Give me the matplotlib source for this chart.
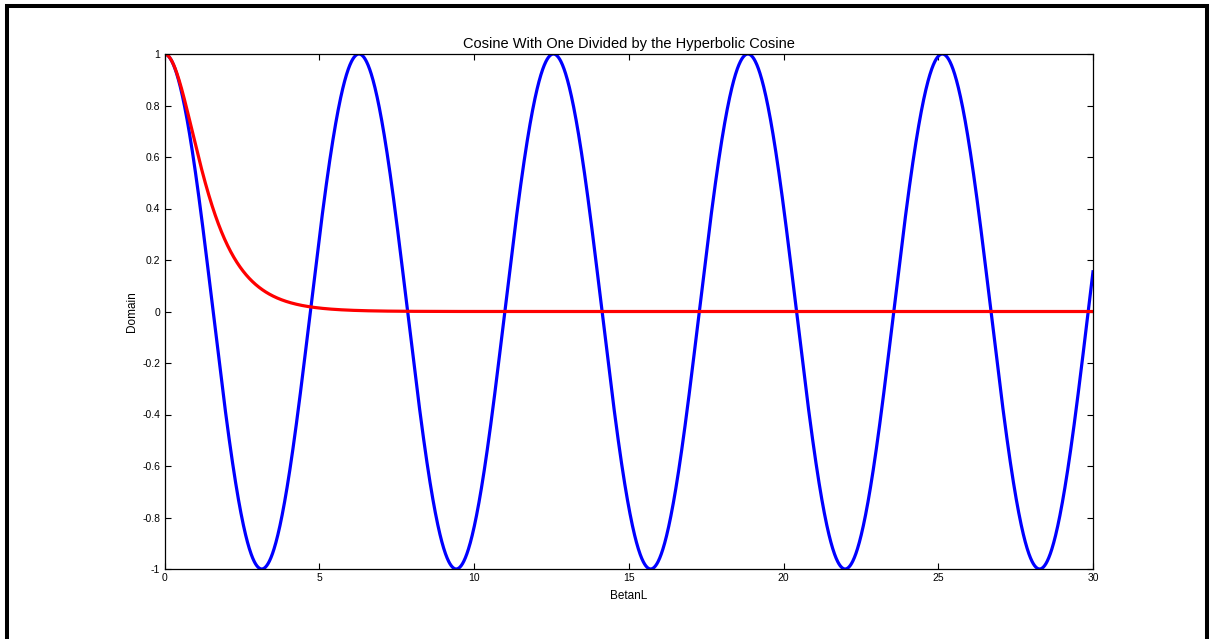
import numpy as np
import matplotlib.pyplot as plt
from matplotlib.lines import Line2D

plt.rcParams['font.family'] = ['Liberation Sans', 'DejaVu Sans']

# sample points along BetanL
betanl = np.linspace(0, 30, 3001)
cos_vals = np.cos(betanl)
sech_vals = 1.0 / np.cosh(betanl)

x_ticks = [0, 5, 10, 15, 20, 25, 30]
y_ticks = [-1, -0.8, -0.6, -0.4, -0.2, 0, 0.2, 0.4, 0.6, 0.8, 1]
y_labels = ['-1', '-0.8', '-0.6', '-0.4', '-0.2', '0', '0.2', '0.4', '0.6', '0.8', '1']

W, H = 1210, 639
fig = plt.figure(figsize=(W / 100, H / 100), dpi=100)
ax = fig.add_axes([164.5 / W, 1 - 569 / H, (1093 - 164.5) / W, (569 - 54) / H])

ax.plot(betanl, cos_vals, color='#0000ff', linewidth=2.3)
ax.plot(betanl, sech_vals, color='#ff0000', linewidth=2.3)

ax.set_xlim(0, 30)
ax.set_ylim(-1, 1)
ax.set_xticks(x_ticks)
ax.set_xticklabels([str(t) for t in x_ticks])
ax.set_yticks(y_ticks)
ax.set_yticklabels(y_labels)
ax.tick_params(direction='in', top=True, right=True, length=4, width=0.8,
               labelsize=7.5, pad=3)
for s in ax.spines.values():
    s.set_linewidth(0.9)

ax.set_title('Cosine With One Divided by the Hyperbolic Cosine', fontsize=10.5, pad=4)
ax.set_xlabel('BetanL', fontsize=8.5, labelpad=5)
ax.set_ylabel('Domain', fontsize=8.5, labelpad=3)

# black frame: left, top and right edges (open at the bottom)
fx = [7 / W, 7 / W, 1207 / W, 1207 / W]
fy = [0, 1 - 5.5 / H, 1 - 5.5 / H, 0]
fig.add_artist(Line2D(fx, fy, transform=fig.transFigure, color='black',
                      linewidth=2.9, solid_joinstyle='miter'))

fig.savefig('out.png', dpi=100)
